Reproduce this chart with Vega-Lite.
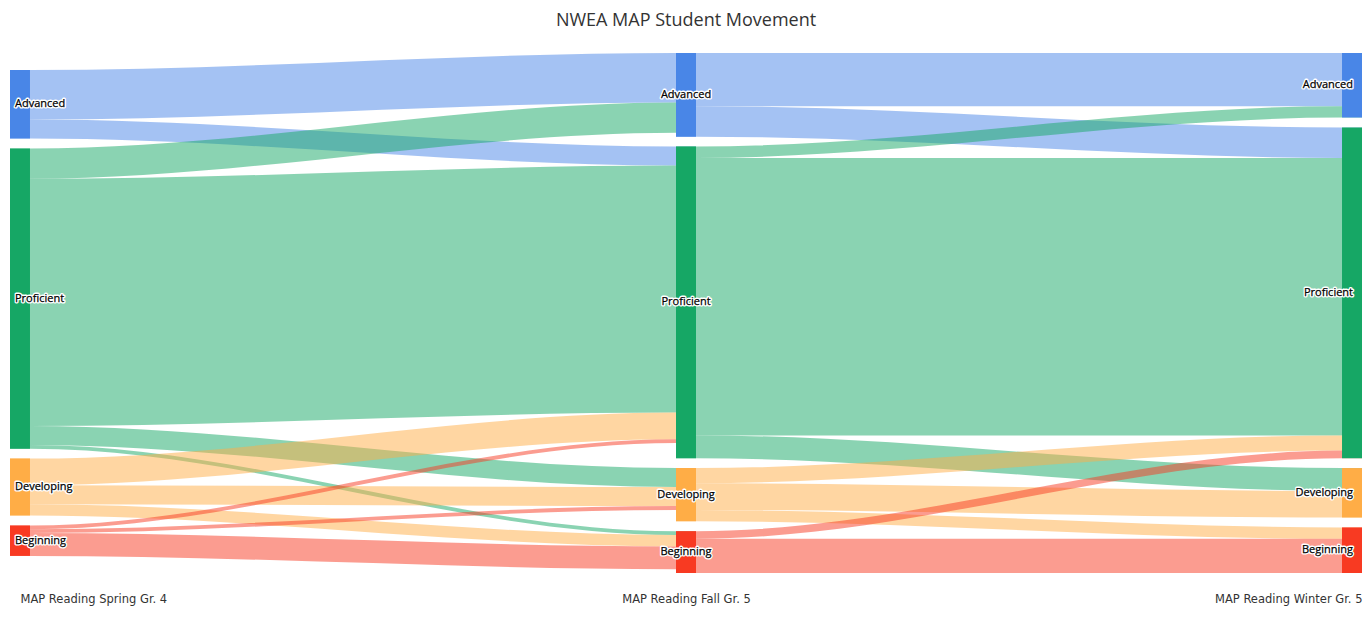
{
  "$schema": "https://vega.github.io/schema/vega-lite/v6.json",
  "width": 1352,
  "height": 520,
  "autosize": {"type": "none"},
  "padding": {"left": 10, "top": 53, "right": 10, "bottom": 50},
  "background": "white",
  "config": {"view": {"stroke": null}, "font": "Open Sans"},
  "title": {
    "text": "NWEA MAP Student Movement",
    "fontSize": 18,
    "font": "Open Sans",
    "fontWeight": "normal",
    "color": "#333333",
    "anchor": "middle",
    "baseline": "alphabetic",
    "offset": 9
  },
  "datasets": {
    "nodes": [
      {"stage": 0, "level": "Advanced", "x0": 0, "x1": 0.03, "y0": 4.5, "y1": 22.5},
      {"stage": 0, "level": "Proficient", "x0": 0, "x1": 0.03, "y0": 25.1, "y1": 104.1},
      {"stage": 0, "level": "Developing", "x0": 0, "x1": 0.03, "y0": 106.7, "y1": 121.7},
      {"stage": 0, "level": "Beginning", "x0": 0, "x1": 0.03, "y0": 124.3, "y1": 132.3},
      {"stage": 1, "level": "Advanced", "x0": 1, "x1": 1.03, "y0": 0, "y1": 22},
      {"stage": 1, "level": "Proficient", "x0": 1, "x1": 1.03, "y0": 24.6, "y1": 106.6},
      {"stage": 1, "level": "Developing", "x0": 1, "x1": 1.03, "y0": 109.2, "y1": 123.2},
      {"stage": 1, "level": "Beginning", "x0": 1, "x1": 1.03, "y0": 125.8, "y1": 136.8},
      {"stage": 2, "level": "Advanced", "x0": 2, "x1": 2.03, "y0": 0, "y1": 17},
      {"stage": 2, "level": "Proficient", "x0": 2, "x1": 2.03, "y0": 19.6, "y1": 106.6},
      {"stage": 2, "level": "Developing", "x0": 2, "x1": 2.03, "y0": 109.2, "y1": 122.2},
      {"stage": 2, "level": "Beginning", "x0": 2, "x1": 2.03, "y0": 124.8, "y1": 136.8}
    ],
    "links": [
      {"link": "sf1", "from": "Advanced", "pos": 0, "y0": 4.5, "y1": 17.5},
      {"link": "sf1", "from": "Advanced", "pos": 0.03, "y0": 4.5, "y1": 17.5},
      {"link": "sf1", "from": "Advanced", "pos": 1, "y0": 0, "y1": 13},
      {"link": "sf1", "from": "Advanced", "pos": 1.03, "y0": 0, "y1": 13},
      {"link": "sf2", "from": "Advanced", "pos": 0, "y0": 17.5, "y1": 22.5},
      {"link": "sf2", "from": "Advanced", "pos": 0.03, "y0": 17.5, "y1": 22.5},
      {"link": "sf2", "from": "Advanced", "pos": 1, "y0": 24.6, "y1": 29.6},
      {"link": "sf2", "from": "Advanced", "pos": 1.03, "y0": 24.6, "y1": 29.6},
      {"link": "sf3", "from": "Proficient", "pos": 0, "y0": 25.1, "y1": 33.1},
      {"link": "sf3", "from": "Proficient", "pos": 0.03, "y0": 25.1, "y1": 33.1},
      {"link": "sf3", "from": "Proficient", "pos": 1, "y0": 13, "y1": 21},
      {"link": "sf3", "from": "Proficient", "pos": 1.03, "y0": 13, "y1": 21},
      {"link": "sf4", "from": "Proficient", "pos": 0, "y0": 33.1, "y1": 98.1},
      {"link": "sf4", "from": "Proficient", "pos": 0.03, "y0": 33.1, "y1": 98.1},
      {"link": "sf4", "from": "Proficient", "pos": 1, "y0": 29.6, "y1": 94.6},
      {"link": "sf4", "from": "Proficient", "pos": 1.03, "y0": 29.6, "y1": 94.6},
      {"link": "sf5", "from": "Proficient", "pos": 0, "y0": 98.1, "y1": 103.1},
      {"link": "sf5", "from": "Proficient", "pos": 0.03, "y0": 98.1, "y1": 103.1},
      {"link": "sf5", "from": "Proficient", "pos": 1, "y0": 109.2, "y1": 114.2},
      {"link": "sf5", "from": "Proficient", "pos": 1.03, "y0": 109.2, "y1": 114.2},
      {"link": "sf6", "from": "Proficient", "pos": 0, "y0": 103.1, "y1": 104.1},
      {"link": "sf6", "from": "Proficient", "pos": 0.03, "y0": 103.1, "y1": 104.1},
      {"link": "sf6", "from": "Proficient", "pos": 1, "y0": 125.8, "y1": 126.8},
      {"link": "sf6", "from": "Proficient", "pos": 1.03, "y0": 125.8, "y1": 126.8},
      {"link": "sf7", "from": "Developing", "pos": 0, "y0": 106.7, "y1": 113.7},
      {"link": "sf7", "from": "Developing", "pos": 0.03, "y0": 106.7, "y1": 113.7},
      {"link": "sf7", "from": "Developing", "pos": 1, "y0": 94.6, "y1": 101.6},
      {"link": "sf7", "from": "Developing", "pos": 1.03, "y0": 94.6, "y1": 101.6},
      {"link": "sf8", "from": "Developing", "pos": 0, "y0": 113.7, "y1": 118.7},
      {"link": "sf8", "from": "Developing", "pos": 0.03, "y0": 113.7, "y1": 118.7},
      {"link": "sf8", "from": "Developing", "pos": 1, "y0": 114.2, "y1": 119.2},
      {"link": "sf8", "from": "Developing", "pos": 1.03, "y0": 114.2, "y1": 119.2},
      {"link": "sf9", "from": "Developing", "pos": 0, "y0": 118.7, "y1": 121.7},
      {"link": "sf9", "from": "Developing", "pos": 0.03, "y0": 118.7, "y1": 121.7},
      {"link": "sf9", "from": "Developing", "pos": 1, "y0": 126.8, "y1": 129.8},
      {"link": "sf9", "from": "Developing", "pos": 1.03, "y0": 126.8, "y1": 129.8},
      {"link": "sf10", "from": "Beginning", "pos": 0, "y0": 124.3, "y1": 125.3},
      {"link": "sf10", "from": "Beginning", "pos": 0.03, "y0": 124.3, "y1": 125.3},
      {"link": "sf10", "from": "Beginning", "pos": 1, "y0": 101.6, "y1": 102.6},
      {"link": "sf10", "from": "Beginning", "pos": 1.03, "y0": 101.6, "y1": 102.6},
      {"link": "sf11", "from": "Beginning", "pos": 0, "y0": 125.3, "y1": 126.3},
      {"link": "sf11", "from": "Beginning", "pos": 0.03, "y0": 125.3, "y1": 126.3},
      {"link": "sf11", "from": "Beginning", "pos": 1, "y0": 119.2, "y1": 120.2},
      {"link": "sf11", "from": "Beginning", "pos": 1.03, "y0": 119.2, "y1": 120.2},
      {"link": "sf12", "from": "Beginning", "pos": 0, "y0": 126.3, "y1": 132.3},
      {"link": "sf12", "from": "Beginning", "pos": 0.03, "y0": 126.3, "y1": 132.3},
      {"link": "sf12", "from": "Beginning", "pos": 1, "y0": 129.8, "y1": 135.8},
      {"link": "sf12", "from": "Beginning", "pos": 1.03, "y0": 129.8, "y1": 135.8},
      {"link": "fw1", "from": "Advanced", "pos": 1, "y0": 0, "y1": 14},
      {"link": "fw1", "from": "Advanced", "pos": 1.03, "y0": 0, "y1": 14},
      {"link": "fw1", "from": "Advanced", "pos": 2, "y0": 0, "y1": 14},
      {"link": "fw1", "from": "Advanced", "pos": 2.03, "y0": 0, "y1": 14},
      {"link": "fw2", "from": "Advanced", "pos": 1, "y0": 14, "y1": 22},
      {"link": "fw2", "from": "Advanced", "pos": 1.03, "y0": 14, "y1": 22},
      {"link": "fw2", "from": "Advanced", "pos": 2, "y0": 19.6, "y1": 27.6},
      {"link": "fw2", "from": "Advanced", "pos": 2.03, "y0": 19.6, "y1": 27.6},
      {"link": "fw3", "from": "Proficient", "pos": 1, "y0": 24.6, "y1": 27.6},
      {"link": "fw3", "from": "Proficient", "pos": 1.03, "y0": 24.6, "y1": 27.6},
      {"link": "fw3", "from": "Proficient", "pos": 2, "y0": 14, "y1": 17},
      {"link": "fw3", "from": "Proficient", "pos": 2.03, "y0": 14, "y1": 17},
      {"link": "fw4", "from": "Proficient", "pos": 1, "y0": 27.6, "y1": 100.6},
      {"link": "fw4", "from": "Proficient", "pos": 1.03, "y0": 27.6, "y1": 100.6},
      {"link": "fw4", "from": "Proficient", "pos": 2, "y0": 27.6, "y1": 100.6},
      {"link": "fw4", "from": "Proficient", "pos": 2.03, "y0": 27.6, "y1": 100.6},
      {"link": "fw5", "from": "Proficient", "pos": 1, "y0": 100.6, "y1": 106.6},
      {"link": "fw5", "from": "Proficient", "pos": 1.03, "y0": 100.6, "y1": 106.6},
      {"link": "fw5", "from": "Proficient", "pos": 2, "y0": 109.2, "y1": 115.2},
      {"link": "fw5", "from": "Proficient", "pos": 2.03, "y0": 109.2, "y1": 115.2},
      {"link": "fw6", "from": "Developing", "pos": 1, "y0": 109.2, "y1": 113.2},
      {"link": "fw6", "from": "Developing", "pos": 1.03, "y0": 109.2, "y1": 113.2},
      {"link": "fw6", "from": "Developing", "pos": 2, "y0": 100.6, "y1": 104.6},
      {"link": "fw6", "from": "Developing", "pos": 2.03, "y0": 100.6, "y1": 104.6},
      {"link": "fw7", "from": "Developing", "pos": 1, "y0": 113.2, "y1": 120.2},
      {"link": "fw7", "from": "Developing", "pos": 1.03, "y0": 113.2, "y1": 120.2},
      {"link": "fw7", "from": "Developing", "pos": 2, "y0": 115.2, "y1": 122.2},
      {"link": "fw7", "from": "Developing", "pos": 2.03, "y0": 115.2, "y1": 122.2},
      {"link": "fw8", "from": "Developing", "pos": 1, "y0": 120.2, "y1": 123.2},
      {"link": "fw8", "from": "Developing", "pos": 1.03, "y0": 120.2, "y1": 123.2},
      {"link": "fw8", "from": "Developing", "pos": 2, "y0": 124.8, "y1": 127.8},
      {"link": "fw8", "from": "Developing", "pos": 2.03, "y0": 124.8, "y1": 127.8},
      {"link": "fw9", "from": "Beginning", "pos": 1, "y0": 125.8, "y1": 127.8},
      {"link": "fw9", "from": "Beginning", "pos": 1.03, "y0": 125.8, "y1": 127.8},
      {"link": "fw9", "from": "Beginning", "pos": 2, "y0": 104.6, "y1": 106.6},
      {"link": "fw9", "from": "Beginning", "pos": 2.03, "y0": 104.6, "y1": 106.6},
      {"link": "fw10", "from": "Beginning", "pos": 1, "y0": 127.8, "y1": 136.8},
      {"link": "fw10", "from": "Beginning", "pos": 1.03, "y0": 127.8, "y1": 136.8},
      {"link": "fw10", "from": "Beginning", "pos": 2, "y0": 127.8, "y1": 136.8},
      {"link": "fw10", "from": "Beginning", "pos": 2.03, "y0": 127.8, "y1": 136.8}
    ]
  },
  "layer": [
    {
      "data": {"name": "links"},
      "mark": {"type": "area", "interpolate": "monotone", "fillOpacity": 0.5},
      "encoding": {
        "x": {
          "field": "pos",
          "type": "quantitative",
          "scale": {"domain": [0, 2.03], "nice": false, "zero": false},
          "axis": {
            "values": [0.015, 1.015, 2.03],
            "labelExpr": "datum.value < 0.5 ? 'MAP Reading Spring Gr. 4' : datum.value < 1.5 ? 'MAP Reading Fall Gr. 5' : 'MAP Reading Winter Gr. 5'",
            "domain": false,
            "ticks": false,
            "tickSize": 0,
            "grid": false,
            "title": null,
            "labelFlush": 15,
            "labelOverlap": false,
            "labelFont": "DejaVu Sans",
            "labelFontSize": 11.5,
            "labelColor": "#333333",
            "labelPadding": 20
          }
        },
        "y": {
          "field": "y0",
          "type": "quantitative",
          "scale": {"domain": [0, 136.8], "reverse": true, "nice": false, "zero": false},
          "axis": null
        },
        "y2": {"field": "y1"},
        "color": {
          "field": "from",
          "type": "nominal",
          "scale": {"domain": ["Advanced", "Proficient", "Developing", "Beginning"], "range": ["#4986e7", "#16a765", "#ffad46", "#f83a22"]},
          "legend": null
        },
        "detail": {"field": "link"}
      }
    },
    {
      "data": {"name": "nodes"},
      "mark": {"type": "rect"},
      "encoding": {
        "x": {"field": "x0", "type": "quantitative"},
        "x2": {"field": "x1"},
        "y": {"field": "y0", "type": "quantitative"},
        "y2": {"field": "y1"},
        "color": {"field": "level", "type": "nominal", "legend": null}
      }
    },
    {
      "data": {"name": "nodes"},
      "transform": [
        {"calculate": "(datum.x0 + datum.x1) / 2", "as": "xc"},
        {"calculate": "(datum.y0 + datum.y1) / 2", "as": "yc"}
      ],
      "mark": {
        "type": "text",
        "font": "Open Sans",
        "fontSize": 11,
        "baseline": "middle",
        "align": {"expr": "datum.stage == 0 ? 'left' : datum.stage == 1 ? 'center' : 'right'"},
        "dx": {"expr": "datum.stage == 0 ? -5 : datum.stage == 2 ? 1 : 0"},
        "fill": "white",
        "stroke": "white",
        "strokeWidth": 3,
        "strokeJoin": "round"
      },
      "encoding": {
        "x": {"field": "xc", "type": "quantitative"},
        "y": {"field": "yc", "type": "quantitative"},
        "text": {"field": "level"}
      }
    },
    {
      "data": {"name": "nodes"},
      "transform": [
        {"calculate": "(datum.x0 + datum.x1) / 2", "as": "xc"},
        {"calculate": "(datum.y0 + datum.y1) / 2", "as": "yc"}
      ],
      "mark": {
        "type": "text",
        "font": "Open Sans",
        "fontSize": 11,
        "baseline": "middle",
        "align": {"expr": "datum.stage == 0 ? 'left' : datum.stage == 1 ? 'center' : 'right'"},
        "dx": {"expr": "datum.stage == 0 ? -5 : datum.stage == 2 ? 1 : 0"},
        "color": "#000000",
        "stroke": "#000000",
        "strokeWidth": 0.25
      },
      "encoding": {
        "x": {"field": "xc", "type": "quantitative"},
        "y": {"field": "yc", "type": "quantitative"},
        "text": {"field": "level"}
      }
    }
  ]
}
